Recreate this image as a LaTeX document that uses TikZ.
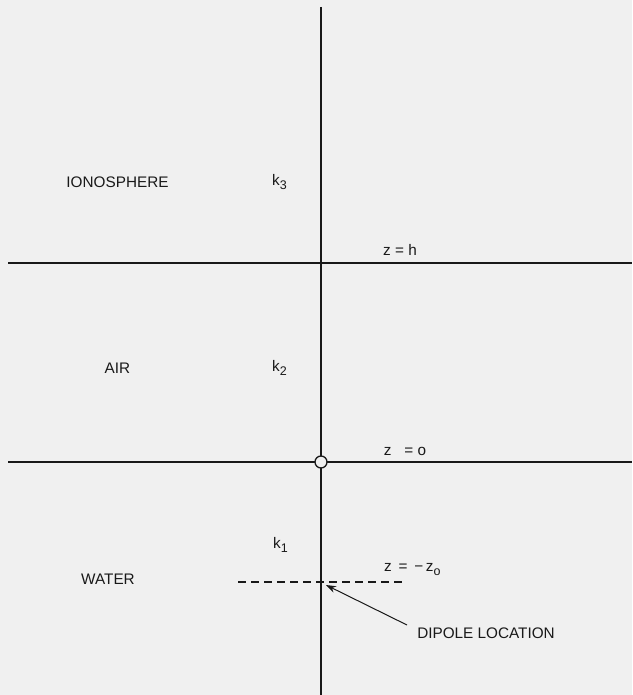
\documentclass[tikz,border=0pt]{standalone}
\usepackage{fontspec}
\setmainfont{Liberation Sans}
\usetikzlibrary{arrows.meta}
\definecolor{bg}{RGB}{240,240,240}
\definecolor{ink}{RGB}{25,25,25}
\newcommand{\lowsub}[1]{\raisebox{-4pt}{\fontsize{12.5}{14}\selectfont #1}}
\begin{document}
\begin{tikzpicture}[x=1pt,y=-1pt,
  line/.style={draw=ink,line width=1.3pt},
  lbl/.style={text=ink,font=\fontsize{15.3}{17}\selectfont,inner sep=0pt}]
\fill[bg] (0,0) rectangle (632,695);
\useasboundingbox (0,0) rectangle (632,695);
\coordinate (vtop) at (321,7);
\coordinate (vbot) at (321,695);
\coordinate (hL) at (8,263);
\coordinate (hR) at (632,263);
\coordinate (gL) at (8,462);
\coordinate (gR) at (632,462);
\coordinate (dL) at (238,582);
\coordinate (dR) at (404,582);
\coordinate (atip) at (326,585);
\coordinate (atail) at (407,625);
\draw[line] (vtop) -- (vbot);
\draw[line] (hL) -- (hR);
\draw[line] (gL) -- (gR);
\node[circle,draw=ink,line width=1.3pt,fill=bg,minimum size=12pt,inner sep=0pt] (origin) at (321,462) {};
\draw[line,dash pattern=on 8pt off 5pt] (dL) -- (dR);
\draw[draw=ink,line width=1pt,-{Stealth[length=10pt,width=7pt]}] (atail) -- (atip);
\node[lbl] (iono) at (117.5,182) {IONOSPHERE};
\node[lbl,anchor=west] (k3) at (272,182) {k\lowsub{3}};
\node[lbl] (zh) at (400,250) {z = h};
\node[lbl] (air) at (117.5,368) {AIR};
\node[lbl,anchor=west] (k2) at (272,368) {k\lowsub{2}};
\node[lbl] (z0) at (405,451) {z \ \ = o};
\node[lbl,anchor=west] (k1) at (273,545) {k\lowsub{1}};
\node[lbl] (water) at (108,579) {WATER};
\node[lbl,anchor=west] (zz0) at (384,570) {z \,= \,{−}\,z\lowsub{o}};
\node[lbl] (dip) at (486,633) {DIPOLE LOCATION};
\end{tikzpicture}
\end{document}
